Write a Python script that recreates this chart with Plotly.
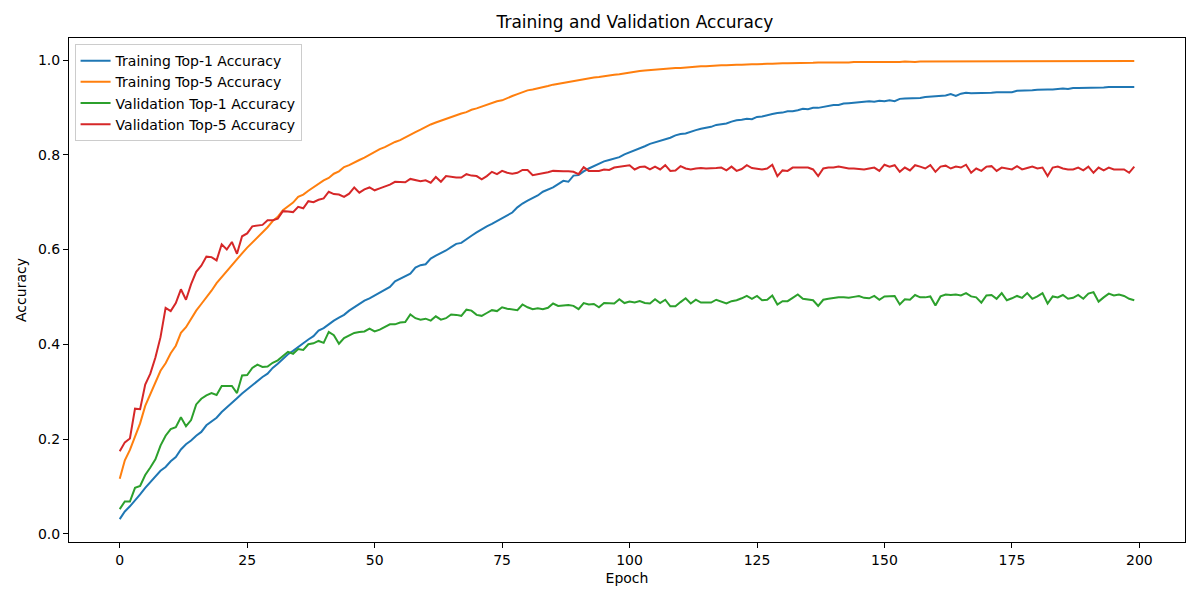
import plotly.graph_objects as go

# epochs 0..199
epochs = list(range(200))

# Training Top-1 accuracy (10 values per row)
train_top1 = [
    0.031, 0.047, 0.058, 0.070, 0.083, 0.097, 0.109, 0.119, 0.133, 0.141,
    0.153, 0.162, 0.178, 0.189, 0.197, 0.207, 0.215, 0.229, 0.238, 0.245,
    0.257, 0.266, 0.277, 0.286, 0.296, 0.305, 0.315, 0.324, 0.331, 0.338,
    0.350, 0.359, 0.369, 0.379, 0.386, 0.395, 0.402, 0.410, 0.417, 0.429,
    0.434, 0.442, 0.450, 0.456, 0.462, 0.471, 0.478, 0.484, 0.492, 0.497,
    0.503, 0.510, 0.516, 0.521, 0.533, 0.538, 0.543, 0.549, 0.562, 0.567,
    0.569, 0.581, 0.587, 0.592, 0.598, 0.605, 0.612, 0.614, 0.622, 0.629,
    0.636, 0.643, 0.649, 0.654, 0.660, 0.667, 0.673, 0.678, 0.689, 0.697,
    0.703, 0.708, 0.714, 0.722, 0.727, 0.731, 0.738, 0.745, 0.743, 0.756,
    0.757, 0.765, 0.771, 0.776, 0.781, 0.786, 0.789, 0.792, 0.795, 0.801,
    0.805, 0.810, 0.813, 0.818, 0.823, 0.826, 0.829, 0.832, 0.836, 0.841,
    0.844, 0.845, 0.849, 0.852, 0.855, 0.857, 0.859, 0.863, 0.865, 0.866,
    0.870, 0.873, 0.874, 0.876, 0.875, 0.880, 0.881, 0.884, 0.886, 0.888,
    0.889, 0.892, 0.892, 0.894, 0.897, 0.896, 0.899, 0.899, 0.901, 0.903,
    0.905, 0.905, 0.908, 0.909, 0.910, 0.911, 0.912, 0.913, 0.912, 0.914,
    0.913, 0.915, 0.913, 0.918, 0.919, 0.919, 0.919, 0.920, 0.922, 0.923,
    0.924, 0.925, 0.925, 0.928, 0.924, 0.929, 0.931, 0.930, 0.930, 0.931,
    0.931, 0.931, 0.932, 0.932, 0.932, 0.932, 0.935, 0.935, 0.935, 0.936,
    0.937, 0.938, 0.938, 0.938, 0.939, 0.940, 0.939, 0.941, 0.941, 0.941,
    0.942, 0.942, 0.942, 0.942, 0.943, 0.943, 0.944, 0.944, 0.944, 0.943,
]

train_top5 = [
    0.116, 0.155, 0.177, 0.206, 0.233, 0.270, 0.294, 0.318, 0.344, 0.360,
    0.381, 0.397, 0.424, 0.436, 0.453, 0.471, 0.485, 0.498, 0.513, 0.529,
    0.542, 0.554, 0.567, 0.580, 0.592, 0.604, 0.615, 0.626, 0.635, 0.647,
    0.660, 0.669, 0.683, 0.692, 0.699, 0.711, 0.716, 0.724, 0.731, 0.738,
    0.746, 0.751, 0.760, 0.765, 0.774, 0.778, 0.784, 0.789, 0.794, 0.800,
    0.806, 0.812, 0.816, 0.822, 0.827, 0.831, 0.837, 0.842, 0.848, 0.853,
    0.859, 0.864, 0.868, 0.872, 0.875, 0.879, 0.883, 0.887, 0.890, 0.895,
    0.898, 0.902, 0.906, 0.909, 0.913, 0.915, 0.920, 0.924, 0.928, 0.932,
    0.936, 0.938, 0.940, 0.943, 0.945, 0.948, 0.950, 0.952, 0.953, 0.955,
    0.957, 0.959, 0.961, 0.963, 0.964, 0.966, 0.967, 0.969, 0.970, 0.972,
    0.974, 0.976, 0.977, 0.978, 0.979, 0.980, 0.981, 0.982, 0.982, 0.983,
    0.983, 0.984, 0.986, 0.986, 0.987, 0.987, 0.988, 0.988, 0.989, 0.989,
    0.990, 0.990, 0.990, 0.991, 0.991, 0.991, 0.992, 0.992, 0.992, 0.993,
    0.993, 0.993, 0.993, 0.994, 0.994, 0.994, 0.994, 0.995, 0.995, 0.994,
    0.995, 0.995, 0.995, 0.995, 0.996, 0.996, 0.996, 0.995, 0.996, 0.996,
    0.996, 0.996, 0.996, 0.996, 0.997, 0.996, 0.996, 0.997, 0.997, 0.997,
    0.997, 0.997, 0.997, 0.997, 0.997, 0.997, 0.997, 0.997, 0.997, 0.997,
    0.997, 0.997, 0.997, 0.997, 0.998, 0.997, 0.997, 0.997, 0.998, 0.998,
    0.997, 0.998, 0.998, 0.998, 0.997, 0.998, 0.998, 0.998, 0.998, 0.998,
    0.998, 0.998, 0.998, 0.998, 0.998, 0.998, 0.998, 0.998, 0.998, 0.998,
]

val_top1 = [
    0.052, 0.068, 0.068, 0.097, 0.101, 0.124, 0.140, 0.157, 0.186, 0.207,
    0.221, 0.225, 0.246, 0.227, 0.240, 0.273, 0.285, 0.292, 0.297, 0.293,
    0.312, 0.312, 0.312, 0.297, 0.334, 0.335, 0.350, 0.357, 0.352, 0.353,
    0.361, 0.366, 0.376, 0.384, 0.380, 0.390, 0.388, 0.400, 0.402, 0.407,
    0.403, 0.426, 0.419, 0.401, 0.413, 0.419, 0.424, 0.426, 0.427, 0.433,
    0.427, 0.431, 0.436, 0.442, 0.442, 0.446, 0.447, 0.463, 0.455, 0.452,
    0.454, 0.450, 0.459, 0.452, 0.455, 0.463, 0.462, 0.460, 0.473, 0.471,
    0.462, 0.460, 0.466, 0.472, 0.470, 0.478, 0.475, 0.474, 0.472, 0.484,
    0.478, 0.474, 0.476, 0.474, 0.477, 0.486, 0.481, 0.482, 0.483, 0.481,
    0.474, 0.487, 0.484, 0.485, 0.478, 0.487, 0.487, 0.486, 0.495, 0.487,
    0.490, 0.488, 0.491, 0.487, 0.486, 0.495, 0.487, 0.494, 0.480, 0.480,
    0.489, 0.497, 0.486, 0.494, 0.488, 0.488, 0.488, 0.494, 0.490, 0.486,
    0.491, 0.493, 0.497, 0.502, 0.496, 0.502, 0.493, 0.494, 0.503, 0.484,
    0.491, 0.491, 0.498, 0.505, 0.496, 0.495, 0.493, 0.481, 0.494, 0.496,
    0.498, 0.499, 0.499, 0.498, 0.500, 0.502, 0.498, 0.497, 0.502, 0.494,
    0.501, 0.502, 0.502, 0.484, 0.495, 0.494, 0.504, 0.499, 0.499, 0.501,
    0.482, 0.501, 0.505, 0.504, 0.505, 0.503, 0.508, 0.501, 0.499, 0.488,
    0.503, 0.504, 0.496, 0.508, 0.493, 0.497, 0.502, 0.498, 0.508, 0.496,
    0.501, 0.508, 0.486, 0.501, 0.499, 0.504, 0.496, 0.498, 0.504, 0.496,
    0.507, 0.510, 0.490, 0.499, 0.507, 0.503, 0.505, 0.502, 0.496, 0.493,
]

val_top5 = [
    0.174, 0.193, 0.201, 0.264, 0.263, 0.315, 0.338, 0.372, 0.415, 0.477,
    0.470, 0.487, 0.516, 0.494, 0.527, 0.553, 0.566, 0.585, 0.584, 0.577,
    0.611, 0.600, 0.616, 0.591, 0.628, 0.634, 0.649, 0.651, 0.652, 0.662,
    0.662, 0.665, 0.681, 0.680, 0.679, 0.690, 0.687, 0.702, 0.700, 0.705,
    0.708, 0.722, 0.717, 0.716, 0.711, 0.718, 0.731, 0.720, 0.727, 0.731,
    0.725, 0.729, 0.733, 0.737, 0.743, 0.743, 0.742, 0.749, 0.746, 0.744,
    0.746, 0.741, 0.753, 0.743, 0.755, 0.753, 0.752, 0.752, 0.759, 0.756,
    0.755, 0.748, 0.755, 0.764, 0.759, 0.766, 0.762, 0.760, 0.762, 0.768,
    0.768, 0.757, 0.759, 0.760, 0.763, 0.766, 0.765, 0.765, 0.765, 0.764,
    0.759, 0.774, 0.766, 0.766, 0.766, 0.769, 0.768, 0.773, 0.775, 0.777,
    0.778, 0.769, 0.774, 0.775, 0.769, 0.775, 0.769, 0.778, 0.766, 0.767,
    0.776, 0.771, 0.769, 0.771, 0.772, 0.771, 0.771, 0.772, 0.773, 0.767,
    0.775, 0.766, 0.770, 0.778, 0.772, 0.770, 0.769, 0.771, 0.779, 0.755,
    0.767, 0.766, 0.773, 0.773, 0.773, 0.773, 0.769, 0.755, 0.771, 0.773,
    0.773, 0.775, 0.773, 0.771, 0.771, 0.770, 0.769, 0.771, 0.773, 0.766,
    0.779, 0.775, 0.778, 0.764, 0.773, 0.767, 0.778, 0.775, 0.771, 0.778,
    0.764, 0.775, 0.777, 0.771, 0.775, 0.773, 0.779, 0.762, 0.771, 0.766,
    0.775, 0.776, 0.766, 0.773, 0.771, 0.769, 0.776, 0.769, 0.772, 0.775,
    0.771, 0.773, 0.755, 0.773, 0.775, 0.771, 0.769, 0.769, 0.773, 0.767,
    0.775, 0.762, 0.773, 0.767, 0.773, 0.769, 0.769, 0.769, 0.762, 0.775,
]

series = [
    ('Training Top-1 Accuracy', train_top1, '#1f77b4'),
    ('Training Top-5 Accuracy', train_top5, '#ff7f0e'),
    ('Validation Top-1 Accuracy', val_top1, '#2ca02c'),
    ('Validation Top-5 Accuracy', val_top5, '#d62728'),
]

fig = go.Figure()
for name, vals, col in series:
    fig.add_trace(go.Scatter(x=epochs, y=vals, mode='lines', name=name,
                             line=dict(color=col, width=2)))

axis_style = dict(showline=True, linecolor='black', linewidth=1, mirror=True,
                  ticks='outside', ticklen=5, tickcolor='black', showgrid=False,
                  zeroline=False, tickfont=dict(size=14, color='black'))

# page body has an 8px margin, so the figure is 8px smaller and margins shifted
fig.update_layout(
    width=1192, height=592,
    font=dict(family='DejaVu Sans', color='black'),
    paper_bgcolor='white', plot_bgcolor='white',
    margin=dict(l=59, r=15, t=30, b=58),
    title=dict(text='Training and Validation Accuracy', x=0.526, xanchor='center',
               y=1 - 14 / 592, yref='container', yanchor='middle',
               font=dict(size=17, color='black')),
    legend=dict(x=0.005, y=0.988, xanchor='left', yanchor='top',
                bgcolor='rgba(255,255,255,0.8)', bordercolor='#cccccc', borderwidth=1,
                font=dict(size=14), itemwidth=30, tracegroupgap=0),
)
fig.update_xaxes(range=[-9.95, 208.95], tickvals=[0, 25, 50, 75, 100, 125, 150, 175, 200],
                 title=dict(text='Epoch', font=dict(size=14), standoff=6), **axis_style)
fig.update_yaxes(range=[-0.0174, 1.0465], tickvals=[0.0, 0.2, 0.4, 0.6, 0.8, 1.0],
                 tickformat='.1f',
                 title=dict(text='Accuracy', font=dict(size=14), standoff=8), **axis_style)

fig.write_html('out.html')
